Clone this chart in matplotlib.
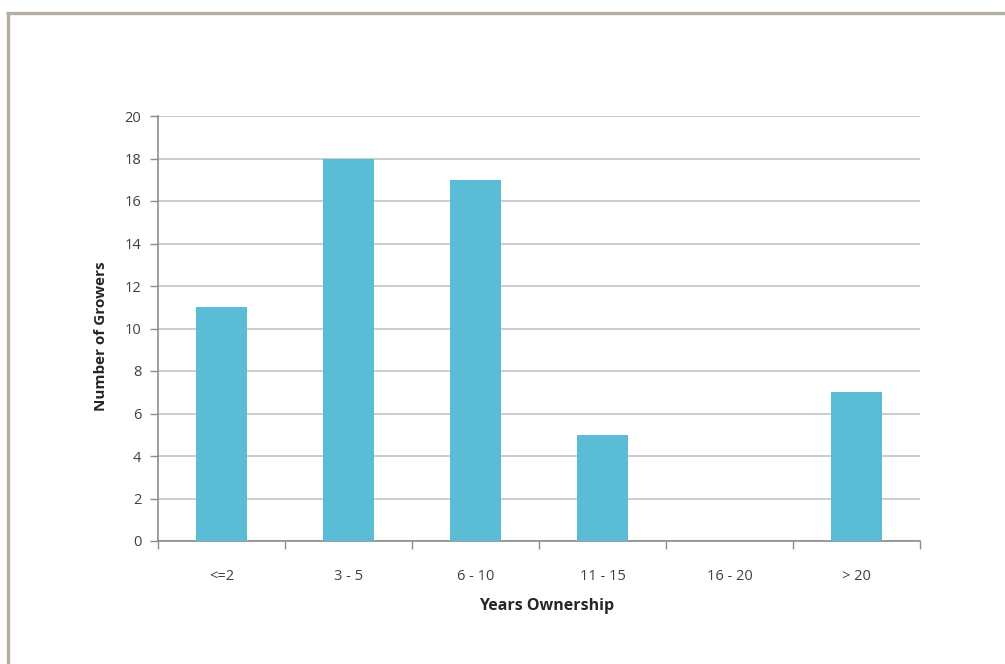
import matplotlib
matplotlib.use("Agg")
import matplotlib.pyplot as plt
from matplotlib.lines import Line2D

categories = ["<=2", "3 - 5", "6 - 10", "11 - 15", "16 - 20", "> 20"]
growers = [11, 18, 17, 5, 0, 7]
y_ticks = [0, 2, 4, 6, 8, 10, 12, 14, 16, 18, 20]

plt.rcParams['font.family'] = ['Open Sans', 'DejaVu Sans']

W, H = 1005, 664
fig = plt.figure(figsize=(W / 100, H / 100), dpi=100)
fig.patch.set_facecolor('white')

# outer frame (left and top lines)
border = '#b5aea3'
fig.add_artist(Line2D([7.5 / W, 7.5 / W], [0, 1 - 12.5 / H], color=border, lw=2.4,
                      transform=fig.transFigure, solid_capstyle='butt'))
fig.add_artist(Line2D([6.3 / W, 1], [1 - 12.5 / H, 1 - 12.5 / H], color=border, lw=2.4,
                      transform=fig.transFigure, solid_capstyle='butt'))

left, right = 158 / W, 920 / W
bottom, top = 1 - 541 / H, 1 - 116 / H
ax = fig.add_axes([left, bottom, right - left, top - bottom])

x = list(range(len(categories)))
ax.bar(x, growers, width=0.4, color='#5bbcd6', zorder=3)

ax.set_xlim(-0.5, len(categories) - 0.5)
ax.set_ylim(0, 20)
ax.set_yticks(y_ticks)
ax.set_yticklabels([str(v) for v in y_ticks])
ax.set_xticks(x)
ax.set_xticklabels(categories)
ax.tick_params(axis='x', length=0, pad=20, labelsize=10.5, labelcolor='#404040')
ax.tick_params(axis='y', length=6, width=1, color='#8c8c8c', pad=6, labelsize=10.5,
               labelcolor='#404040')

# category boundary ticks
ax.set_xticks([i - 0.5 for i in range(len(categories) + 1)], minor=True)
ax.tick_params(axis='x', which='minor', length=6, width=1, color='#8c8c8c')

ax.yaxis.grid(True, color='#c4c4c4', lw=1.2, zorder=0)
ax.set_axisbelow(True)
for s in ['top', 'right']:
    ax.spines[s].set_visible(False)
for s in ['left', 'bottom']:
    ax.spines[s].set_color('#8c8c8c')
    ax.spines[s].set_linewidth(1.2)

ax.set_ylabel('Number of Growers', fontsize=11, fontweight='bold', color='#262626', labelpad=12)
ax.set_xlabel('Years Ownership', fontsize=11.5, fontweight='bold', color='#262626', labelpad=10)
ax.xaxis.label.set_x(0.51)
ax.yaxis.label.set_y(0.482)

fig.savefig('out.png', dpi=100)
